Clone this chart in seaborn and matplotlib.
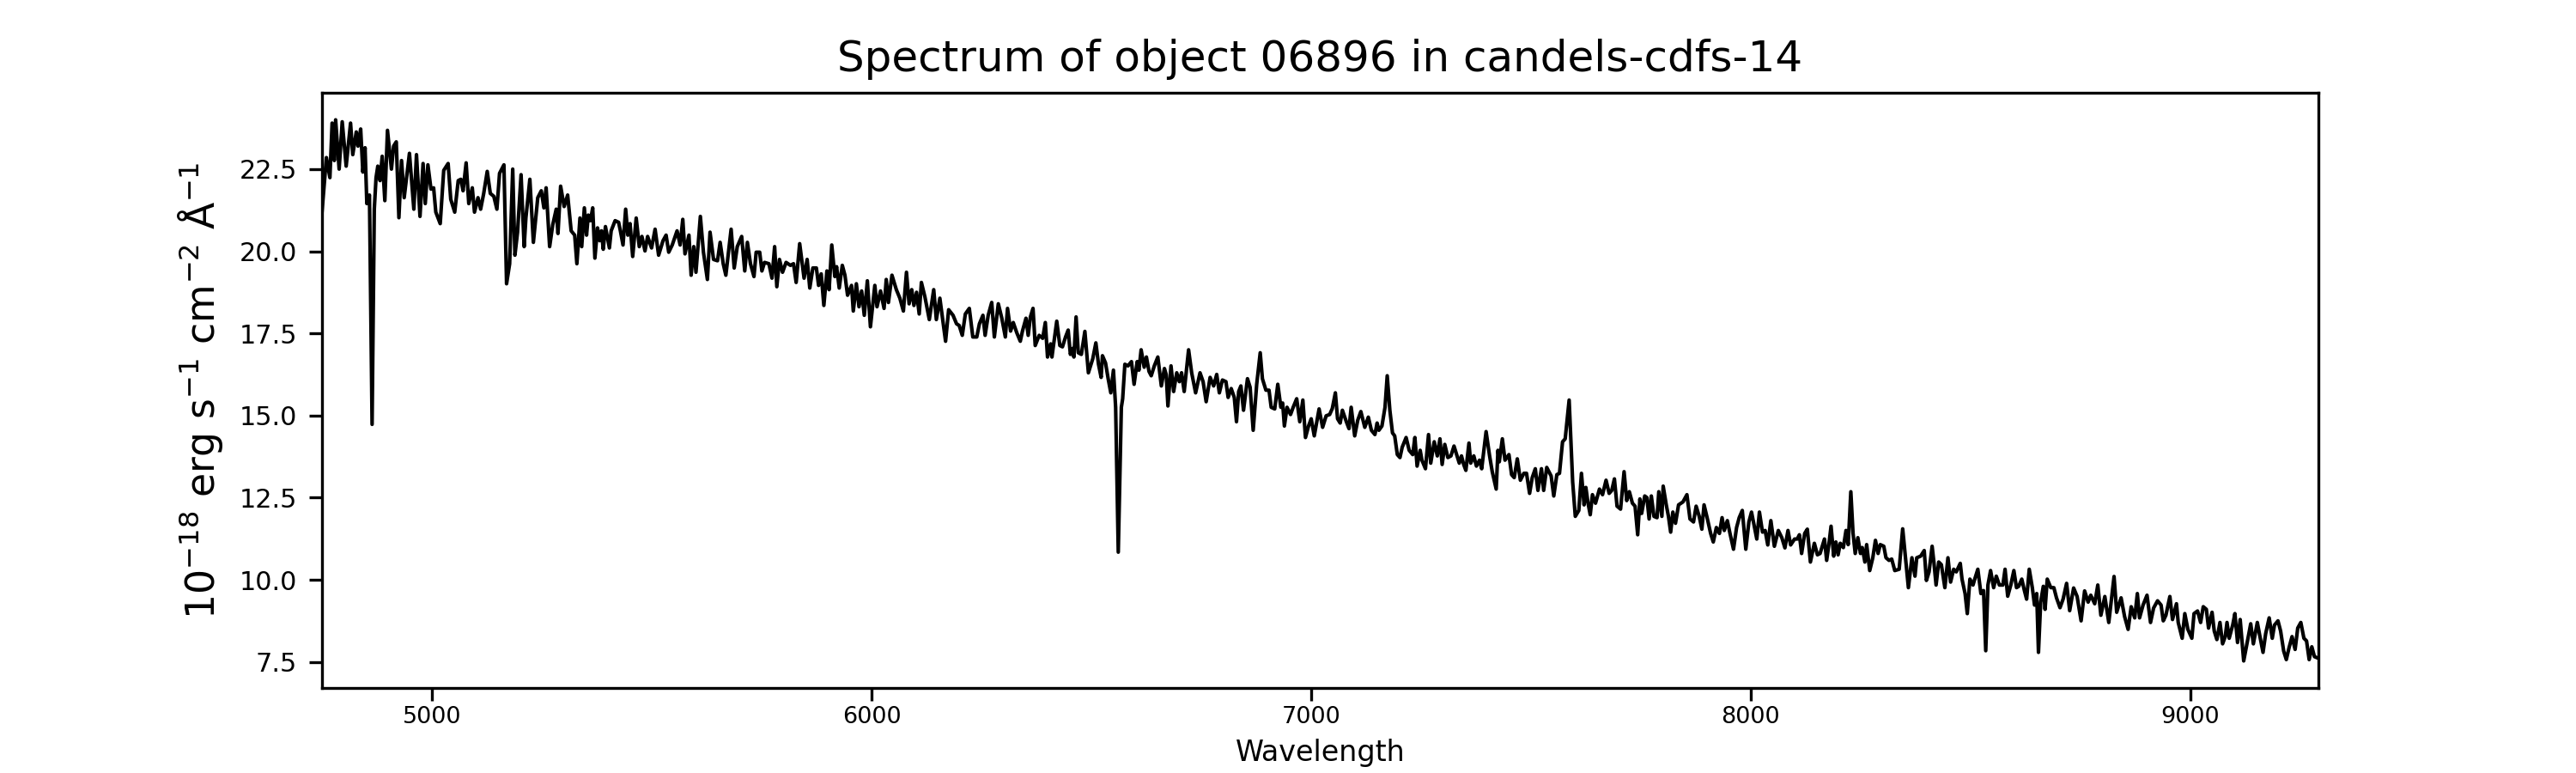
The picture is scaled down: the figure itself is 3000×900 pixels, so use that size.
import numpy as np
import pandas as pd
import matplotlib
matplotlib.use("Agg")
import matplotlib.pyplot as plt
import seaborn as sns

# spectrum, in segments of increasing wavelength (Angstrom)
wave_a = [4749, 4759, 4767, 4772, 4777, 4780, 4788, 4795, 4804, 4814,
          4819, 4827, 4831, 4837, 4842, 4847, 4851, 4857, 4863, 4868,
          4872, 4876, 4881, 4886, 4892, 4898, 4907, 4912, 4918, 4924,
          4930, 4936, 4948, 4958, 4964, 4972, 4979, 4984, 4990, 4997,
          5003, 5008, 5018, 5026, 5036, 5042, 5051, 5059, 5065, 5070,
          5077, 5083, 5091, 5096, 5104, 5110, 5117, 5125, 5132, 5140,
          5147, 5153, 5163, 5169, 5176, 5183, 5188, 5194, 5202, 5209,
          5213, 5222, 5230, 5240, 5248, 5254, 5259, 5267, 5274, 5282,
          5286, 5292, 5300, 5308, 5316, 5324]
flux_a = [21.19, 22.85, 22.24, 23.9, 22.76, 24.0, 22.5, 23.94, 22.59, 23.9,
          22.94, 23.63, 23.2, 23.72, 22.41, 23.15, 21.45, 21.71, 14.73, 21.28,
          22.24, 22.59, 22.15, 22.89, 21.54, 23.68, 22.5, 23.2, 23.33, 21.02,
          22.76, 21.63, 22.98, 21.28, 22.94, 21.06, 22.67, 21.45, 22.63, 21.89,
          21.93, 21.19, 20.84, 22.46, 22.67, 21.58, 21.19, 22.15, 22.19, 21.84,
          22.69, 21.45, 21.93, 21.19, 21.63, 21.28, 21.76, 22.43, 21.76, 21.67,
          21.28, 22.37, 22.63, 19.01, 19.62, 22.5, 19.88, 20.58, 22.33, 20.14,
          21.02, 22.19, 20.27, 21.63, 21.84, 21.32, 21.93, 20.14, 20.8, 21.28,
          20.54, 21.98, 21.36, 21.71, 20.62, 20.49]

wave_b = [5329, 5336, 5340, 5346, 5351, 5355, 5360, 5365, 5370, 5376,
          5381, 5385, 5389, 5394, 5403, 5407, 5416, 5424, 5428, 5434,
          5440, 5445, 5450, 5456, 5464, 5471, 5477, 5484, 5490, 5499,
          5507, 5515, 5525, 5532, 5538, 5546, 5557, 5564, 5570, 5575,
          5584, 5589, 5595, 5600, 5610, 5617, 5626, 5632, 5640, 5649,
          5655, 5662, 5668, 5680, 5687, 5694, 5704, 5711, 5717, 5724,
          5732, 5737, 5745, 5750, 5756, 5766, 5773, 5779, 5784, 5790,
          5797, 5805, 5815, 5822, 5828, 5836, 5846, 5853, 5859, 5866,
          5874, 5879, 5885, 5891]
flux_b = [19.62, 21.01, 20.14, 21.32, 20.49, 21.1, 20.93, 21.32, 19.79, 20.71,
          20.32, 20.62, 20.06, 20.75, 20.1, 20.62, 20.93, 20.88, 20.62, 20.19,
          21.28, 20.49, 20.84, 19.84, 21.01, 20.14, 20.45, 20.01, 20.45, 20.1,
          20.67, 19.88, 20.32, 20.49, 19.97, 20.19, 20.62, 20.19, 20.97, 19.92,
          20.49, 19.27, 20.14, 19.36, 21.06, 19.97, 19.14, 20.58, 19.75, 19.71,
          20.27, 19.62, 19.27, 20.67, 19.49, 20.14, 20.45, 19.4, 20.27, 19.62,
          19.23, 19.97, 19.97, 19.4, 19.66, 19.62, 19.18, 20.14, 18.92, 19.75,
          19.36, 19.66, 19.57, 19.62, 19.05, 20.23, 19.18, 19.75, 18.88, 19.49,
          19.49, 18.96, 19.31, 18.35]

wave_c = [5898, 5903, 5909, 5916, 5920, 5926, 5933, 5939, 5945, 5954,
          5958, 5965, 5971, 5977, 5983, 5990, 5997, 6007, 6012, 6020,
          6028, 6033, 6038, 6046, 6056, 6064, 6072, 6079, 6085, 6091,
          6096, 6102, 6108, 6113, 6121, 6131, 6141, 6147, 6155, 6162,
          6168, 6175, 6185, 6193, 6199, 6206, 6213, 6222, 6230, 6239,
          6245, 6253, 6258, 6265, 6273, 6279, 6288, 6296, 6304, 6309,
          6316, 6322, 6330, 6338, 6343, 6351, 6356, 6361, 6367, 6372,
          6381, 6389, 6395, 6400, 6407, 6410, 6421, 6428, 6434, 6441]
flux_c = [19.4, 18.83, 20.19, 19.23, 19.53, 18.88, 19.57, 19.27, 18.66, 18.96,
          18.18, 19.01, 18.31, 18.79, 18.05, 19.1, 17.7, 18.96, 18.31, 18.79,
          18.26, 19.14, 18.44, 19.27, 18.83, 18.57, 18.18, 19.36, 18.4, 18.83,
          18.35, 18.75, 18.09, 19.05, 18.61, 17.92, 18.83, 17.92, 18.57, 17.87,
          17.26, 18.22, 18.05, 17.79, 17.74, 17.44, 18.09, 18.26, 17.39, 17.39,
          17.79, 18.05, 17.44, 18.05, 18.44, 17.39, 18.4, 17.96, 17.39, 18.26,
          17.57, 17.83, 17.52, 17.26, 17.57, 17.96, 17.44, 18.0, 18.26, 17.13,
          17.44, 17.35, 17.83, 16.78, 17.18, 16.78, 17.87, 17.13, 17.09, 17.39]

wave_d = [6447, 6452, 6457, 6460, 6465, 6470, 6477, 6485, 6493, 6503,
          6510, 6516, 6522, 6525, 6532, 6538, 6544, 6550, 6555, 6561,
          6568, 6571, 6576, 6583, 6591, 6597, 6604, 6608, 6613, 6620,
          6625, 6631, 6636, 6643, 6651, 6659, 6666, 6670, 6674, 6681,
          6687, 6694, 6700, 6705, 6711, 6721, 6728, 6737, 6747, 6754,
          6761, 6770, 6778, 6785, 6791, 6798, 6806, 6811, 6818, 6825,
          6830, 6835, 6840, 6846, 6855, 6861, 6868, 6876, 6884, 6889,
          6897, 6904, 6909, 6917, 6924, 6931, 6935, 6939, 6945, 6953,
          6959, 6967, 6974, 6981, 6987, 6994, 7000, 7007, 7018, 7026]
flux_d = [17.6, 16.86, 17.04, 16.78, 18.0, 16.91, 16.86, 17.56, 16.3, 16.73,
          17.21, 16.56, 16.16, 16.82, 16.6, 16.12, 15.69, 16.38, 15.25, 10.84,
          15.25, 15.51, 16.56, 16.51, 16.64, 15.95, 16.64, 16.38, 17.0, 16.47,
          16.78, 16.34, 16.21, 16.51, 16.78, 15.9, 16.43, 16.25, 15.29, 16.51,
          15.73, 16.3, 16.03, 16.3, 15.73, 17.0, 16.3, 15.69, 16.3, 16.03,
          15.42, 16.16, 15.9, 16.25, 15.69, 16.08, 16.03, 15.55, 15.82, 15.55,
          14.81, 15.73, 15.9, 15.16, 16.12, 15.86, 14.55, 15.95, 16.91, 16.12,
          15.77, 15.77, 15.25, 15.2, 15.95, 15.25, 15.38, 14.68, 15.25, 15.03,
          15.25, 15.51, 14.81, 15.47, 14.33, 14.68, 14.9, 14.38, 15.2, 14.64]

wave_e = [7034, 7042, 7048, 7055, 7060, 7066, 7071, 7080, 7086, 7091,
          7099, 7106, 7113, 7122, 7130, 7137, 7145, 7150, 7154, 7161,
          7168, 7173, 7179, 7185, 7190, 7196, 7202, 7207, 7216, 7223,
          7231, 7236, 7241, 7248, 7252, 7260, 7267, 7272, 7280, 7287,
          7293, 7298, 7304, 7311, 7318, 7325, 7332, 7337, 7342, 7347,
          7352, 7359, 7363, 7370, 7376, 7383, 7388, 7398, 7406, 7412,
          7421, 7425, 7428, 7435, 7441, 7450, 7456, 7462, 7469, 7476,
          7484, 7490, 7497, 7503, 7510, 7516, 7524, 7529, 7536, 7546,
          7552, 7559, 7565, 7572]
flux_e = [14.99, 15.03, 15.21, 15.69, 14.9, 14.77, 15.16, 14.81, 14.6, 15.25,
          14.38, 14.86, 15.12, 14.64, 14.95, 14.55, 14.42, 14.77, 14.55, 14.68,
          15.25, 16.21, 15.16, 14.47, 14.38, 13.81, 13.72, 14.03, 14.33, 13.94,
          13.81, 14.33, 13.46, 13.94, 13.64, 13.38, 14.42, 13.55, 14.2, 13.77,
          14.29, 13.51, 14.12, 13.72, 13.77, 14.07, 13.77, 13.55, 13.77, 13.51,
          13.33, 14.16, 13.55, 13.77, 13.46, 13.64, 13.38, 14.51, 13.77, 13.29,
          12.76, 13.94, 13.59, 14.29, 13.64, 13.81, 13.2, 13.11, 13.68, 13.03,
          13.24, 13.24, 12.63, 13.11, 13.38, 12.72, 13.38, 12.72, 13.42, 13.16,
          12.55, 13.2, 13.24, 14.2]

wave_f = [7578, 7587, 7595, 7601, 7609, 7615, 7621, 7625, 7630, 7635,
          7640, 7647, 7656, 7663, 7671, 7678, 7684, 7690, 7696, 7704,
          7712, 7718, 7724, 7731, 7737, 7743, 7748, 7752, 7759, 7764,
          7769, 7774, 7780, 7787, 7791, 7798, 7801, 7808, 7813, 7818,
          7823, 7829, 7836, 7846, 7855, 7862, 7870, 7876, 7883, 7889,
          7894, 7901, 7909, 7915, 7922, 7929, 7935, 7940, 7947, 7953,
          7961, 7968, 7974, 7981, 7989, 7996, 8002, 8009, 8014, 8020,
          8027, 8033, 8039, 8046, 8054, 8063, 8071, 8078, 8085, 8091,
          8100, 8106, 8111, 8116, 8123, 8129, 8136]
flux_f = [14.29, 15.47, 12.98, 11.93, 12.11, 13.24, 12.28, 12.81, 12.33, 11.98,
          12.59, 12.33, 12.76, 12.59, 13.03, 12.63, 12.72, 13.07, 12.24, 12.15,
          13.29, 12.41, 12.68, 12.33, 12.24, 11.37, 12.46, 12.02, 12.55, 12.5,
          11.85, 12.55, 11.93, 11.89, 12.68, 11.93, 12.85, 12.28, 11.93, 11.45,
          12.06, 11.72, 12.28, 12.37, 12.59, 11.85, 11.76, 12.24, 11.93, 11.54,
          12.28, 11.89, 11.41, 11.15, 11.59, 11.41, 11.89, 11.5, 11.8, 11.41,
          10.93, 11.59, 11.89, 12.11, 10.93, 11.76, 12.06, 11.59, 11.24, 12.06,
          11.45, 11.5, 11.06, 11.8, 11.02, 11.5, 11.28, 10.97, 11.5, 11.06,
          11.24, 11.24, 11.37, 10.8, 11.41, 11.54, 10.54]

wave_g = [8145, 8152, 8158, 8168, 8173, 8178, 8183, 8189, 8194, 8199,
          8204, 8211, 8217, 8222, 8228, 8233, 8238, 8244, 8250, 8254,
          8260, 8264, 8271, 8278, 8284, 8290, 8295, 8303, 8308, 8315,
          8321, 8328, 8338, 8346, 8352, 8359, 8367, 8374, 8378, 8387,
          8395, 8400, 8406, 8413, 8417, 8422, 8428, 8434, 8442, 8449,
          8455, 8462, 8468, 8477, 8481, 8488, 8493, 8499, 8506, 8510,
          8517, 8524, 8530, 8535, 8540, 8546, 8553, 8559, 8566, 8574,
          8579, 8585, 8592, 8599, 8605, 8610, 8617, 8623, 8628, 8634,
          8641, 8646, 8651, 8655, 8660, 8666, 8670, 8675, 8683, 8690,
          8696, 8704, 8711, 8719, 8726]
flux_g = [11.11, 10.76, 10.8, 11.24, 10.59, 11.07, 11.63, 10.72, 11.15, 10.76,
          11.11, 10.98, 11.5, 11.07, 12.68, 11.42, 10.8, 11.28, 10.8, 10.98,
          10.54, 11.07, 10.28, 10.67, 11.2, 10.8, 11.07, 11.02, 10.67, 10.59,
          10.63, 10.28, 10.32, 11.55, 10.72, 9.76, 10.67, 10.11, 10.67, 10.72,
          10.89, 9.98, 10.24, 11.02, 10.54, 9.84, 10.54, 10.46, 9.76, 10.67,
          9.93, 10.32, 10.24, 10.5, 10.02, 9.58, 8.97, 10.02, 9.84, 10.02,
          10.32, 9.58, 9.67, 7.84, 9.84, 10.28, 9.76, 10.11, 9.84, 9.84,
          10.32, 9.5, 9.84, 10.28, 9.76, 9.8, 10.02, 9.67, 9.41, 10.32,
          9.76, 9.23, 9.58, 7.79, 9.32, 9.8, 9.1, 10.02, 9.76, 9.76,
          9.45, 9.15, 9.41, 9.89, 9.06]

wave_h = [8735, 8743, 8752, 8760, 8768, 8774, 8783, 8790, 8797, 8806,
          8815, 8827, 8833, 8843, 8851, 8859, 8866, 8874, 8880, 8885,
          8893, 8902, 8910, 8917, 8926, 8934, 8939, 8945, 8954, 8960,
          8969, 8973, 8982, 8988, 8995, 9004, 9009, 9017, 9024, 9030,
          9037, 9042, 9050, 9055, 9061, 9068, 9074, 9080, 9084, 9089,
          9097, 9102, 9108, 9114, 9122, 9130, 9138, 9144, 9153, 9159,
          9166, 9172, 9180, 9187, 9192, 9200, 9206, 9213, 9219, 9225,
          9232, 9239, 9245, 9252, 9259, 9265, 9271, 9277, 9283, 9292]
flux_h = [9.75, 9.49, 8.75, 9.66, 9.32, 9.53, 9.27, 9.84, 8.92, 9.49,
          8.7, 10.1, 9.01, 9.45, 8.88, 8.49, 9.18, 8.84, 9.58, 8.84,
          9.23, 9.53, 8.7, 9.14, 9.36, 9.23, 8.75, 8.92, 9.49, 8.79,
          9.27, 8.7, 8.22, 8.97, 8.49, 8.22, 8.97, 9.05, 8.7, 9.18,
          9.1, 8.53, 9.01, 8.44, 8.18, 8.7, 8.05, 8.27, 8.7, 8.22,
          8.62, 8.97, 8.09, 8.79, 7.53, 8.09, 8.66, 8.05, 8.7, 8.27,
          7.79, 8.36, 8.84, 8.22, 8.62, 8.75, 8.44, 7.83, 7.57, 7.92,
          8.27, 7.88, 8.53, 8.7, 8.22, 8.14, 7.57, 7.96, 7.66, 7.61]

segments = [(wave_a, flux_a), (wave_b, flux_b), (wave_c, flux_c), (wave_d, flux_d),
            (wave_e, flux_e), (wave_f, flux_f), (wave_g, flux_g), (wave_h, flux_h)]
for w, f in segments:
    assert len(w) == len(f), (w[0], len(w), len(f))

spec = pd.DataFrame({
    "wavelength": np.concatenate([w for w, _ in segments]),
    "flux": np.concatenate([f for _, f in segments]),
})

fig, ax = plt.subplots(figsize=(10, 3), dpi=300)
sns.lineplot(data=spec, x="wavelength", y="flux", color="black", linewidth=1, ax=ax)
ax.set_xlim(spec["wavelength"].min(), spec["wavelength"].max())

ax.set_title("Spectrum of object 06896 in candels-cdfs-14", fontsize=12)
ax.set_xlabel("Wavelength", fontsize=8, labelpad=3)
ax.set_ylabel(r"$10^{-18}$ erg s$^{-1}$ cm$^{-2}$ Å$^{-1}$", fontsize=11)
ax.tick_params(axis="x", labelsize=6.5, pad=1.5)
ax.tick_params(axis="y", labelsize=7.3)

fig.savefig("out.png", dpi=300)
